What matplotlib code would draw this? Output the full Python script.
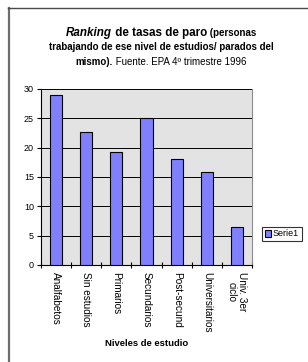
import matplotlib
matplotlib.use("Agg")
import matplotlib.pyplot as plt
from matplotlib.lines import Line2D

categories = ["Analfabetos", "Sin estudios", "Primarios", "Secundarios",
              "Post-secund", "Universitarios", "Univ. 3er\nciclo"]
values = [28.9, 22.7, 19.2, 25.0, 18.0, 15.9, 6.4]
yticks = [0, 5, 10, 15, 20, 25, 30]
series_name = "Serie1"

plt.rcParams['font.family'] = ['Liberation Sans', 'DejaVu Sans']

W, H = 308, 362
fig = plt.figure(figsize=(W / 100, H / 100), dpi=100)
fig.patch.set_facecolor("white")

# outer frame (left and top lines)
fig.add_artist(Line2D([8.5 / W, 8.5 / W], [0, 1 - 8 / H], transform=fig.transFigure,
                      color="#6e6e6e", lw=1.6))
fig.add_artist(Line2D([8 / W, 1], [1 - 8 / H, 1 - 8 / H], transform=fig.transFigure,
                      color="#4a4a4a", lw=1.0))

ax = fig.add_axes([41 / W, 1 - 265 / H, (252 - 41) / W, (265 - 89) / H])
ax.set_facecolor("#e3e3e3")
x = list(range(len(categories)))
ax.bar(x, values, width=0.4, color="#8080ff", edgecolor="black", linewidth=0.8,
       zorder=3, label=series_name)
ax.set_xlim(-0.5, len(categories) - 0.5)
ax.set_ylim(0, 30)
ax.set_yticks(yticks)
ax.set_yticklabels([str(t) for t in yticks], fontsize=6.5)
for t in yticks[1:]:
    ax.axhline(t, color="black", lw=0.7, zorder=1)

ax.set_xticks([i - 0.5 for i in range(len(categories) + 1)])
ax.set_xticklabels([])
ax.set_xticks(x, minor=True)
ax.set_xticklabels(categories, minor=True, rotation=270, fontsize=7.2,
                   va="top", ha="center", linespacing=1.0)
ax.tick_params(axis="x", which="minor", length=0, pad=5)
ax.tick_params(axis="x", which="major", direction="inout", length=5, width=0.8)
ax.tick_params(axis="y", direction="out", length=3, width=0.8, pad=2)

for s in ["left", "bottom"]:
    ax.spines[s].set_color("black")
    ax.spines[s].set_linewidth(0.8)
ax.spines["right"].set_color("#8a8a8a")
ax.spines["right"].set_linewidth(0.8)
ax.spines["top"].set_visible(False)

ax.set_xlabel("Niveles de estudio", fontsize=6.8, fontweight="bold", labelpad=6)
ax.xaxis.set_label_coords((147 - 41) / (252 - 41), -(339 - 265) / (265 - 89))

leg = ax.legend(loc="center left", bbox_to_anchor=(262 / W, 1 - 234 / H),
                bbox_transform=fig.transFigure, fontsize=6.5, frameon=True,
                fancybox=False, edgecolor="black", handlelength=0.7, handleheight=0.7,
                handletextpad=0.2, borderpad=0.3, borderaxespad=0)
leg.get_frame().set_linewidth(0.8)

# Title with mixed styles
fig.canvas.draw()
renderer = fig.canvas.get_renderer()
cx = 161 / W


def draw_line(parts, ycenter):
    texts = []
    widths = []
    for s, kw in parts:
        t = fig.text(0, 1 - ycenter / H, s, va="center", ha="left", **kw)
        bb = t.get_window_extent(renderer)
        texts.append(t)
        widths.append(bb.width)
    total = sum(widths)
    xs = cx * W - total / 2
    for t, w in zip(texts, widths):
        t.set_x(xs / W)
        xs += w


draw_line([("Ranking", dict(fontsize=8.4, fontweight="bold", style="italic")),
           (" de tasas de paro", dict(fontsize=8.4, fontweight="bold")),
           (" (personas", dict(fontsize=7, fontweight="bold"))], 33)
draw_line([("trabajando de ese nivel de estudios/ parados del",
            dict(fontsize=7, fontweight="bold"))], 47)
draw_line([("mismo).", dict(fontsize=7, fontweight="bold")),
           (" Fuente. EPA 4º trimestre 1996", dict(fontsize=7))], 62)

fig.savefig("out.png", dpi=100)
